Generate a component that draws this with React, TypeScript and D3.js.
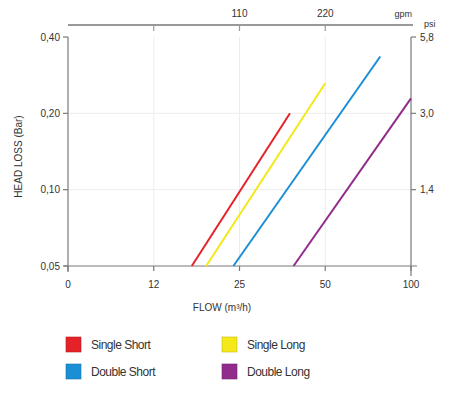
import React, { useEffect, useRef } from 'react';
import * as d3 from 'd3';

// flow in m³/h, head loss in bar
const seriesNames = ['Single Short', 'Single Long', 'Double Short', 'Double Long'];
const seriesColors = ['#e52228', '#f4e818', '#1a8fd5', '#912b8c'];
const flowStart = [17.0, 19.1, 23.8, 38.7];
const flowEnd = [37.6, 50, 78, 100];
const lossStart = [0.05, 0.05, 0.05, 0.05];
const lossEnd = [0.2, 0.263, 0.335, 0.229];

const flowTicks = [6.25, 12.5, 25, 50, 100];
const flowLabels = ['0', '12', '25', '50', '100'];
const lossTicks = [0.05, 0.1, 0.2, 0.4];
const lossLabels = ['0,05', '0,10', '0,20', '0,40'];
const psiTicks = [0.1, 0.2, 0.4];
const psiLabels = ['1,4', '3,0', '5,8'];
const gpmTicks = [12.5, 25, 50];
const gpmLabels = ['', '110', '220'];

const legendOrder = [0, 1, 2, 3];

const App = () => {
  const ref = useRef<SVGSVGElement>(null);

  useEffect(() => {
    const width = 453, height = 398;
    const left = 68, right = 411, top = 37, bottom = 266;
    const font = 'Arial, "Liberation Sans", sans-serif';
    const txt = '#333';
    const axisCol = '#7a7a7a';

    const svg = d3.select(ref.current);
    svg.selectAll('*').remove();
    svg.attr('width', width).attr('height', height);

    const x = d3.scaleLog().domain([6.25, 100]).range([left, right]);
    const y = d3.scaleLog().domain([0.05, 0.4]).range([bottom, top]);

    // grid
    svg.append('g').selectAll('line').data(flowTicks.slice(1, -1)).join('line')
      .attr('x1', d => x(d)).attr('x2', d => x(d)).attr('y1', top).attr('y2', bottom)
      .attr('stroke', '#ececec');
    svg.append('g').selectAll('line').data(lossTicks.slice(1, -1)).join('line')
      .attr('x1', left).attr('x2', right).attr('y1', d => y(d)).attr('y2', d => y(d))
      .attr('stroke', '#ececec');

    // left axis
    svg.append('line').attr('x1', left).attr('x2', left).attr('y1', top).attr('y2', bottom + 6)
      .attr('stroke', axisCol).attr('stroke-width', 1.2);
    svg.append('g').selectAll('line').data(lossTicks).join('line')
      .attr('x1', left - 5).attr('x2', left).attr('y1', d => y(d)).attr('y2', d => y(d))
      .attr('stroke', axisCol).attr('stroke-width', 1.2);
    svg.append('g').selectAll('text').data(lossTicks).join('text')
      .attr('x', left - 8).attr('y', d => y(d)).attr('dy', '0.35em')
      .attr('text-anchor', 'end').attr('font-family', font).attr('font-size', 10).attr('fill', txt)
      .text((d, i) => lossLabels[i]);
    svg.append('text')
      .attr('transform', `translate(22,${(top + bottom) / 2 + 5}) rotate(-90)`)
      .attr('text-anchor', 'middle').attr('font-family', font).attr('font-size', 10).attr('fill', txt)
      .text('HEAD LOSS (Bar)');

    // right axis (psi)
    svg.append('line').attr('x1', right).attr('x2', right).attr('y1', top).attr('y2', bottom + 10)
      .attr('stroke', axisCol).attr('stroke-width', 1.2);
    svg.append('g').selectAll('line').data(psiTicks).join('line')
      .attr('x1', right).attr('x2', right + 5).attr('y1', d => y(d)).attr('y2', d => y(d))
      .attr('stroke', axisCol).attr('stroke-width', 1.2);
    svg.append('g').selectAll('text').data(psiTicks).join('text')
      .attr('x', right + 9).attr('y', d => y(d)).attr('dy', '0.35em')
      .attr('font-family', font).attr('font-size', 10).attr('fill', txt)
      .text((d, i) => psiLabels[i]);
    svg.append('text').attr('x', 424).attr('y', 27)
      .attr('font-family', font).attr('font-size', 9).attr('fill', txt).text('psi');

    // bottom axis
    svg.append('line').attr('x1', left - 4).attr('x2', right + 6).attr('y1', bottom).attr('y2', bottom)
      .attr('stroke', axisCol).attr('stroke-width', 1.2);
    svg.append('g').selectAll('line').data(flowTicks).join('line')
      .attr('x1', d => x(d)).attr('x2', d => x(d)).attr('y1', bottom).attr('y2', bottom + 5)
      .attr('stroke', axisCol).attr('stroke-width', 1.2);
    svg.append('g').selectAll('text').data(flowTicks).join('text')
      .attr('x', d => x(d)).attr('y', 288)
      .attr('text-anchor', 'middle').attr('font-family', font).attr('font-size', 10).attr('fill', txt)
      .text((d, i) => flowLabels[i]);
    svg.append('text').attr('x', 222).attr('y', 311)
      .attr('text-anchor', 'middle').attr('font-family', font).attr('font-size', 10).attr('fill', txt)
      .text('FLOW (m³/h)');

    // top axis (gpm)
    svg.append('line').attr('x1', left).attr('x2', right + 2).attr('y1', 25).attr('y2', 25)
      .attr('stroke', '#999').attr('stroke-width', 2);
    svg.append('g').selectAll('line').data(gpmTicks).join('line')
      .attr('x1', d => x(d)).attr('x2', d => x(d)).attr('y1', 25).attr('y2', 31)
      .attr('stroke', '#999').attr('stroke-width', 1.2);
    svg.append('g').selectAll('text').data(gpmTicks).join('text')
      .attr('x', d => x(d)).attr('y', 17)
      .attr('text-anchor', 'middle').attr('font-family', font).attr('font-size', 10).attr('fill', txt)
      .text((d, i) => gpmLabels[i]);
    svg.append('text').attr('x', 412).attr('y', 17).attr('text-anchor', 'end')
      .attr('font-family', font).attr('font-size', 9).attr('fill', txt).text('gpm');

    // series lines
    svg.append('g').selectAll('line').data(seriesNames).join('line')
      .attr('x1', (d, i) => x(flowStart[i])).attr('y1', (d, i) => y(lossStart[i]))
      .attr('x2', (d, i) => x(flowEnd[i])).attr('y2', (d, i) => y(lossEnd[i]))
      .attr('stroke', (d, i) => seriesColors[i]).attr('stroke-width', 2);

    // legend
    const lg = svg.append('g').selectAll('g').data(legendOrder).join('g')
      .attr('transform', (d, k) => `translate(${k % 2 === 0 ? 66 : 222},${k < 2 ? 337 : 364})`);
    lg.append('rect').attr('width', 15).attr('height', 15)
      .attr('fill', i => seriesColors[i])
      .attr('stroke', i => d3.color(seriesColors[i])!.darker(0.6).toString()).attr('stroke-width', 0.6);
    lg.append('text').attr('x', 25).attr('y', 8).attr('dy', '0.35em')
      .attr('font-family', font).attr('font-size', 12).attr('fill', txt)
      .attr('letter-spacing', -0.5)
      .text(i => seriesNames[i]);
  }, []);

  return (
    <svg ref={ref} style={{ position: 'absolute', left: 0, top: 0, background: '#fff' }}></svg>
  );
};

export default App;
